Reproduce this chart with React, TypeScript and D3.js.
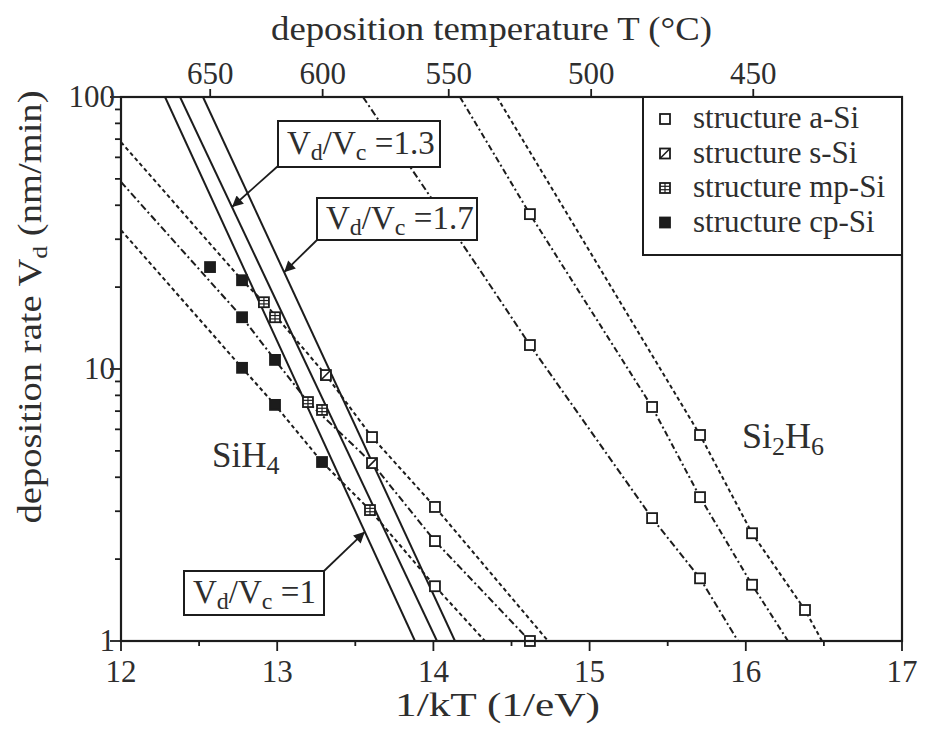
import React from 'react';
import * as d3 from 'd3';

// 沉积速率 vs 1/kT 数据
type Pt = [number, number];

const xTicks = [12, 13, 14, 15, 16, 17];
const xMinor = [12.5, 13.5, 14.5, 15.5, 16.5];
const yMajor = [1, 10, 100];
const tempTicks = [650, 600, 550, 500, 450];
const kB = 8.617e-5;

// SiH4 a-Si + Si2H6 a-Si
const aSi: Pt[] = [
  [13.607, 5.62], [14.01, 3.11], [14.01, 2.33], [14.01, 1.59], [14.618, 1.0],
  [14.618, 37.1], [14.618, 12.25], [15.4, 7.25], [15.4, 2.83],
  [15.707, 5.72], [15.707, 3.38], [15.707, 1.7], [16.04, 2.49], [16.04, 1.61], [16.379, 1.3],
];
const sSi: Pt[] = [[13.312, 9.5], [13.607, 4.51]];
const mpSi: Pt[] = [[12.915, 17.6], [12.986, 15.5], [13.197, 7.56], [13.287, 7.07], [13.594, 3.03]];
const cpSi: Pt[] = [
  [12.57, 23.7], [12.775, 21.2], [12.775, 15.5], [12.986, 10.8],
  [12.775, 10.1], [12.986, 7.38], [13.287, 4.55],
];

// 拟合虚线
const sih4A: Pt[] = [[12.0, 68.3], [12.775, 21.2], [12.915, 17.6], [13.312, 9.5], [13.607, 5.62], [14.01, 3.11], [14.734, 1]];
const sih4B: Pt[] = [[12.0, 48.7], [12.775, 15.5], [12.986, 10.8], [13.197, 7.56], [13.607, 4.51], [14.01, 2.33], [14.618, 1]];
const sih4C: Pt[] = [[12.0, 32.4], [12.775, 10.1], [12.986, 7.38], [13.287, 4.55], [13.594, 3.03], [14.01, 1.59], [14.33, 1]];
const si2h6A: Pt[] = [[13.549, 100], [14.298, 23.1], [14.618, 12.25], [15.4, 2.83], [15.707, 1.7], [15.95, 1]];
const si2h6B: Pt[] = [[14.17, 100], [14.618, 37.1], [15.4, 7.25], [15.707, 3.38], [16.04, 1.61], [16.27, 1]];
const si2h6C: Pt[] = [[14.407, 100], [15.707, 5.72], [16.04, 2.49], [16.379, 1.3], [16.488, 1]];

// Vd/Vc 实线
const ratioLabels = ['1', '1.3', '1.7'];
const ratioLines: Pt[][] = [
  [[12.282, 100], [13.882, 1]],
  [[12.378, 100], [14.023, 1]],
  [[12.525, 100], [14.138, 1]],
];
const ratioArrowY = [2.52, 39.4, 22.7];

const legendLabels = ['structure a-Si', 'structure s-Si', 'structure mp-Si', 'structure cp-Si'];

const FONT = '"Liberation Serif", Tinos, "Times New Roman", Times, serif';
const INK = '#1c1c1c';
const TXT = '#2e2e2e';

function Marker({ cx, cy, kind }: { cx: number; cy: number; kind: string }) {
  const h = 5;
  return (
    <g>
      <rect x={cx - h} y={cy - h} width={2 * h} height={2 * h}
        fill={kind === 'cp' ? INK : '#fff'} stroke={INK} strokeWidth={1.8} />
      {kind === 's' && <line x1={cx - h} y1={cy + h} x2={cx + h} y2={cy - h} stroke={INK} strokeWidth={1.6} />}
      {kind === 'mp' && (
        <g stroke={INK} strokeWidth={1.2}>
          <line x1={cx - h} y1={cy - 1.7} x2={cx + h} y2={cy - 1.7} />
          <line x1={cx - h} y1={cy + 1.7} x2={cx + h} y2={cy + 1.7} />
          <line x1={cx} y1={cy - h} x2={cx} y2={cy + h} />
        </g>
      )}
    </g>
  );
}

export default function App() {
  const x = d3.scaleLinear().domain([12, 17]).range([121, 902]);
  const y = d3.scaleLog().domain([1, 100]).range([641, 97]);
  const line = d3.line<Pt>().x(d => x(d[0])).y(d => y(d[1]));
  const left = x.range()[0], right = x.range()[1];
  const top = y.range()[1], bottom = y.range()[0];

  const yMinor = y.ticks().filter(v => !yMajor.includes(v));
  const invKT = (t: number) => 1 / (kB * (t + 273.15));

  const onLine = (l: Pt[], yv: number): [number, number] => {
    const t = (Math.log10(yv) - Math.log10(l[0][1])) / (Math.log10(l[1][1]) - Math.log10(l[0][1]));
    return [x(l[0][0] + t * (l[1][0] - l[0][0])), y(yv)];
  };

  const dashed: { d: Pt[]; dash: string }[] = [
    { d: sih4A, dash: '4,3' },
    { d: sih4B, dash: '7,3,2,3' },
    { d: sih4C, dash: '4,3' },
    { d: si2h6A, dash: '7,3,2,3' },
    { d: si2h6B, dash: '6,3,2,3' },
    { d: si2h6C, dash: '4,3' },
  ];

  // 标注框（布局位置）
  const boxes = [
    { x: 184, y: 571, w: 140, h: 44, from: [324, 571] },
    { x: 278, y: 121, w: 162, h: 46, from: [278, 166] },
    { x: 317, y: 198, w: 160, h: 42, from: [317, 240] },
  ];

  return (
    <div style={{ position: 'absolute', left: 0, top: 0, fontFamily: FONT }}>
      <svg width={926} height={734} style={{ display: 'block', background: '#fff', fontFamily: FONT }}>
        <defs>
          <clipPath id="plot"><rect x={left} y={top} width={right - left} height={bottom - top} /></clipPath>
          <marker id="ah" viewBox="0 0 10 10" refX={10} refY={5} markerWidth={16} markerHeight={11}
            markerUnits="userSpaceOnUse" orient="auto">
            <path d="M0,0 L10,5 L0,10 z" fill={INK} />
          </marker>
        </defs>

        {/* 标题 */}
        <text x={271} y={40} fontSize={33} fill={TXT} textLength={441} lengthAdjust="spacingAndGlyphs">
          deposition temperature T (°C)
        </text>
        <text x={395} y={716} fontSize={33} fill={TXT} textLength={205} lengthAdjust="spacingAndGlyphs">
          1/kT (1/eV)
        </text>
        <text transform="translate(41,307) rotate(-90)" textAnchor="middle" fontSize={33} fill={TXT}
          textLength={433} lengthAdjust="spacingAndGlyphs">
          deposition rate V<tspan fontSize={22} dy={6}>d</tspan><tspan dy={-6}> (nm/min)</tspan>
        </text>

        {/* 坐标轴刻度 */}
        <g stroke={INK} strokeWidth={1.8}>
          {xTicks.map(t => <line key={'xt' + t} x1={x(t)} x2={x(t)} y1={bottom} y2={bottom + 10} />)}
          {xMinor.map(t => <line key={'xm' + t} x1={x(t)} x2={x(t)} y1={bottom} y2={bottom + 5} />)}
          {yMajor.map(t => <line key={'yt' + t} x1={left - 11} x2={left} y1={y(t)} y2={y(t)} />)}
          {yMinor.map(t => <line key={'ym' + t} x1={left - 6} x2={left} y1={y(t)} y2={y(t)} />)}
          {tempTicks.map(t => <line key={'tt' + t} x1={x(invKT(t))} x2={x(invKT(t))} y1={top} y2={top - 8} />)}
        </g>
        {xTicks.map(t => (
          <text key={'xl' + t} x={x(t)} y={682} fontSize={31} fill={TXT} textAnchor="middle">{t}</text>
        ))}
        {yMajor.map(t => (
          <text key={'yl' + t} x={left - 6} y={y(t) + 10} fontSize={31} fill={TXT} textAnchor="end">{t}</text>
        ))}
        {tempTicks.map(t => (
          <text key={'tl' + t} x={x(invKT(t))} y={84} fontSize={31} fill={TXT} textAnchor="middle">{t}</text>
        ))}

        {/* 线条 */}
        <g clipPath="url(#plot)" fill="none">
          {dashed.map((l, i) => (
            <path key={'d' + i} d={line(l.d) || ''} stroke={INK} strokeWidth={2} strokeDasharray={l.dash} />
          ))}
          {ratioLines.map((l, i) => (
            <path key={'r' + i} d={line(l) || ''} stroke={INK} strokeWidth={2} />
          ))}
        </g>

        {/* 数据点 */}
        {aSi.map((d, i) => <Marker key={'a' + i} cx={x(d[0])} cy={y(d[1])} kind="a" />)}
        {sSi.map((d, i) => <Marker key={'s' + i} cx={x(d[0])} cy={y(d[1])} kind="s" />)}
        {mpSi.map((d, i) => <Marker key={'m' + i} cx={x(d[0])} cy={y(d[1])} kind="mp" />)}
        {cpSi.map((d, i) => <Marker key={'c' + i} cx={x(d[0])} cy={y(d[1])} kind="cp" />)}

        {/* 边框 */}
        <rect x={left} y={top} width={right - left} height={bottom - top} fill="none" stroke={INK} strokeWidth={2.2} />

        {/* 图例 */}
        <rect x={643} y={top} width={right - 643} height={158} fill="#fff" stroke={INK} strokeWidth={2} />
        {legendLabels.map((lab, i) => {
          const by = 128 + i * 34.5;
          const kind = ['a', 's', 'mp', 'cp'][i];
          return (
            <g key={lab}>
              <Marker cx={665} cy={by - 9} kind={kind} />
              <text x={693} y={by} fontSize={31} fill={TXT}>{lab}</text>
            </g>
          );
        })}

        {/* 气体标签 */}
        <text x={212} y={467} fontSize={35} fill={TXT}>SiH<tspan fontSize={26} dy={7}>4</tspan></text>
        <text x={742} y={448} fontSize={36} fill={TXT}>Si<tspan fontSize={26} dy={7}>2</tspan><tspan dy={-7}>H</tspan><tspan fontSize={26} dy={7}>6</tspan></text>

        {/* Vd/Vc 标注 */}
        {boxes.map((b, i) => {
          const tip = onLine(ratioLines[i], ratioArrowY[i]);
          return (
            <g key={'b' + i}>
              <line x1={b.from[0]} y1={b.from[1]} x2={tip[0]} y2={tip[1]} stroke={INK} strokeWidth={1.8} markerEnd="url(#ah)" />
              <rect x={b.x} y={b.y} width={b.w} height={b.h} fill="#fff" stroke={INK} strokeWidth={2} />
              <text x={b.x + 9} y={b.y + b.h / 2 + 10} fontSize={33} fill={TXT}>
                V<tspan fontSize={24} dy={6}>d</tspan><tspan dy={-6}>/V</tspan><tspan fontSize={24} dy={6}>c</tspan><tspan dy={-6}> =</tspan>{ratioLabels[i]}
              </text>
            </g>
          );
        })}
      </svg>
    </div>
  );
}
